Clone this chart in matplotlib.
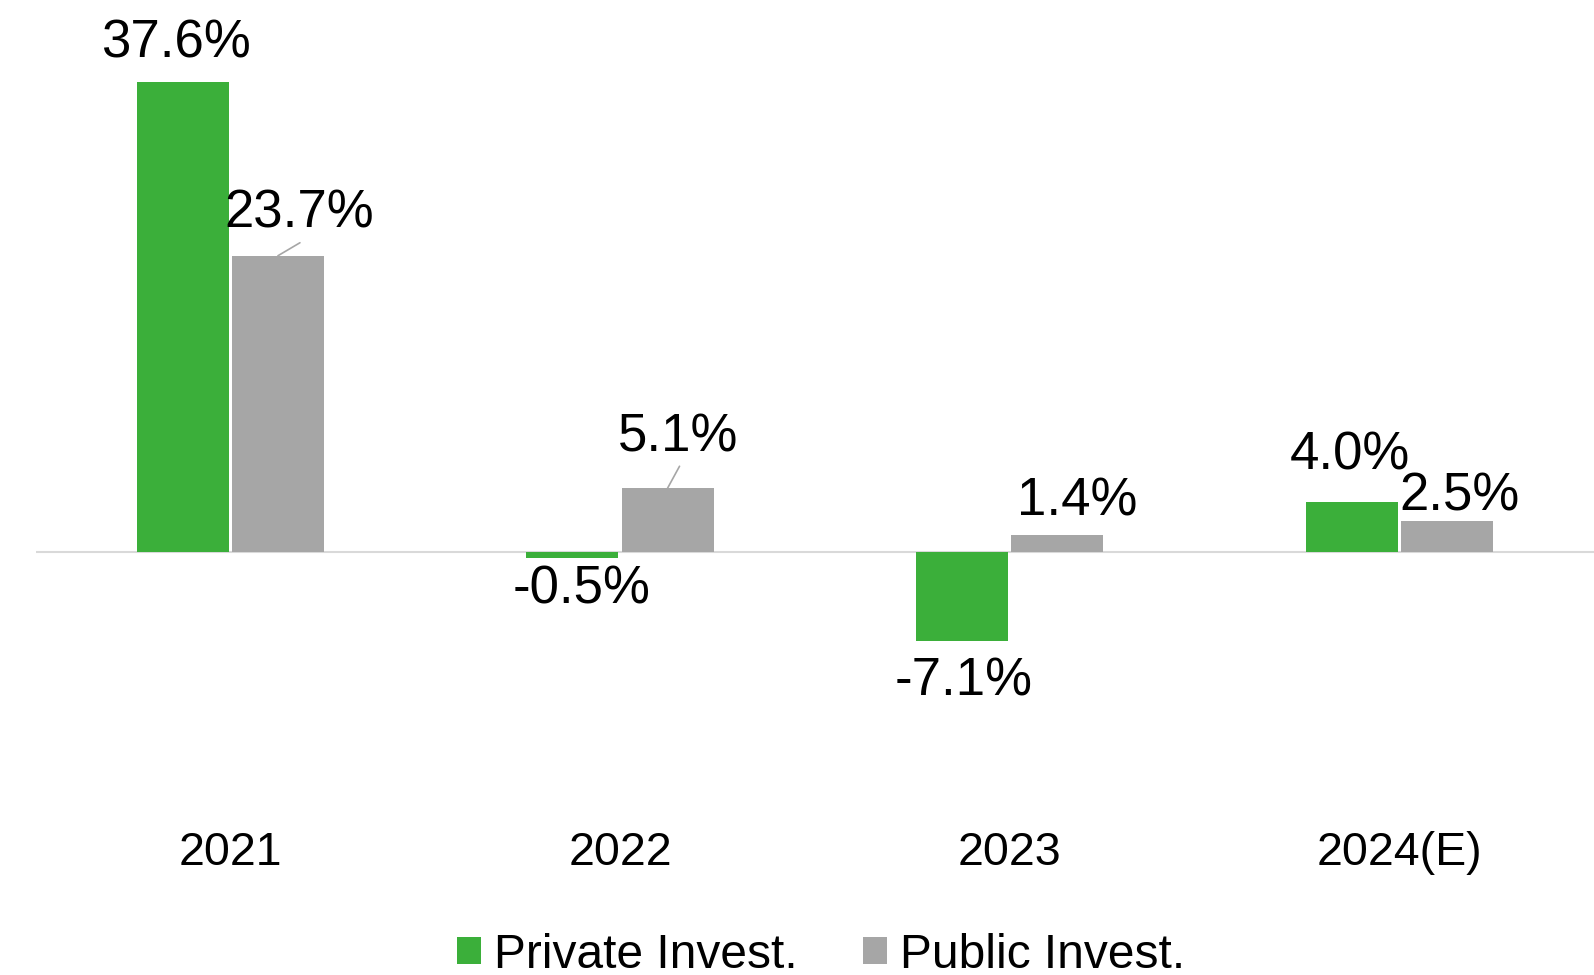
import matplotlib
matplotlib.use("Agg")
import matplotlib.pyplot as plt
from matplotlib.patches import Patch

plt.rcParams['font.family'] = ['Liberation Sans', 'DejaVu Sans']

categories = ["2021", "2022", "2023", "2024(E)"]
private_invest = [37.6, -0.5, -7.1, 4.0]
public_invest = [23.7, 5.1, 1.4, 2.5]
series_names = ["Private Invest.", "Public Invest."]

GREEN = "#3BAF3A"
GRAY = "#A6A6A6"

W, H = 1594, 975
fig = plt.figure(figsize=(W / 100, H / 100), dpi=100)

# axes: x from 35.6 px to right edge, y from top down to 800 px
ax = fig.add_axes([35.6 / W, (H - 800) / H, (W - 35.6) / W, 800 / H])
px_per_unit = 12.5
zero_px = 552
ax.set_ylim(-(800 - zero_px) / px_per_unit, zero_px / px_per_unit)
ax.set_xlim(-0.5, len(categories) - 0.5)

bw = 0.236
off = 0.122
x = list(range(len(categories)))
ax.bar([i - off for i in x], private_invest, width=bw, color=GREEN, zorder=3)
ax.bar([i + off for i in x], public_invest, width=bw, color=GRAY, zorder=3)

ax.axhline(0, color="#D9D9D9", lw=1.5, zorder=2)

for s in ax.spines.values():
    s.set_visible(False)
ax.set_yticks([])
ax.set_xticks(x)
ax.set_xticklabels(categories, fontsize=33.5)
ax.tick_params(axis='x', length=0, pad=22)

# label offsets in pixels (dx, dy) relative to the bar end
priv_offsets = [(-7, 25), (9, -45), (2, -55), (-2, 33)]
pub_offsets = [(21, 28), (11, 37), (20, 19), (13, 10)]
pub_leaders = [True, True, False, False]

fs = 38
for i, v in enumerate(private_invest):
    dx, dy = priv_offsets[i]
    ax.annotate(f"{v:.1f}%", xy=(i - off, v), xytext=(dx, dy),
                textcoords="offset pixels", ha="center", va="baseline",
                fontsize=fs, color="black", zorder=4)
for i, v in enumerate(public_invest):
    dx, dy = pub_offsets[i]
    ax.annotate(f"{v:.1f}%", xy=(i + off, v), xytext=(dx, dy),
                textcoords="offset pixels", ha="center", va="baseline",
                fontsize=fs, color="black", zorder=4)
    if pub_leaders[i]:
        ax.annotate("", xy=(i + off, v), xytext=(dx + 1, dy - 15),
                    textcoords="offset pixels",
                    arrowprops=dict(arrowstyle="-", color="#A6A6A6", lw=1.2,
                                    shrinkA=0, shrinkB=0), zorder=4)

handles = [Patch(facecolor=GREEN, edgecolor="none"),
           Patch(facecolor=GRAY, edgecolor="none")]
fig.legend(handles, series_names, loc="center",
           bbox_to_anchor=(821 / W, 1 - 955 / H), ncol=2, frameon=False,
           fontsize=34.5, handlelength=0.5, handleheight=0.5,
           handletextpad=0.27, columnspacing=1.38, borderaxespad=0)

fig.savefig("out.png", dpi=100)
